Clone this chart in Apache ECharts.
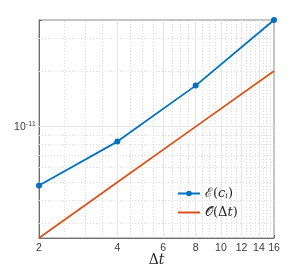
<!DOCTYPE html>
<html>
<head>
<meta charset="utf-8">
<script src="https://cdn.jsdelivr.net/npm/echarts@6/dist/echarts.min.js"></script>
<style>html,body{margin:0;padding:0;background:#fff;}#c{width:303px;height:268px;}</style>
</head>
<body>
<div id="c"></div>
<script>
const dt = [2, 4, 8, 16];
const errorValues = [4.81e-12, 8.3e-12, 1.666e-11, 3.77e-11];
const refValues = [2.5e-12, 5e-12, 1e-11, 2e-11];
const xTickLabels = [2, 4, 6, 8, 10, 12, 14, 16];
const xMajorGrid = [4, 6, 8, 10, 12, 14];
const xMinorGrid = [2.5, 3, 3.5, 4.5, 5, 5.5, 6.5, 7, 7.5, 8.5, 9, 9.5, 10.5, 11, 11.5, 12.5, 13, 13.5, 14.5, 15, 15.5];
const yMajorGrid = [1e-11];
const yMinorGrid = [3e-12, 4e-12, 5e-12, 6e-12, 7e-12, 8e-12, 9e-12, 2e-11, 3e-11];
const xMin = 2, xMax = 16, yMin = 2.5e-12, yMax = 3.77e-11;

const chart = echarts.init(document.getElementById('c'), null, {renderer: 'canvas'});
const serif = 'DejaVu Serif';
const minorStyle = {color: '#dcdcdc', type: [1, 2], width: 1};
const majorStyle = {color: '#e6e6e6', type: 'solid', width: 1};
const hLine = (v, st) => [{coord: [xMin, v], lineStyle: st}, {coord: [xMax, v]}];
const vLine = (v, st) => [{coord: [v, yMin], lineStyle: st}, {coord: [v, yMax]}];
const gridLines = [].concat(
  xMinorGrid.map(v => vLine(v, minorStyle)),
  yMinorGrid.map(v => hLine(v, minorStyle)),
  xMajorGrid.map(v => vLine(v, majorStyle)),
  yMajorGrid.map(v => hLine(v, majorStyle))
);
chart.setOption({
  animation: false,
  backgroundColor: '#fff',
  grid: {left: 39, right: 29, top: 20, bottom: 30, containLabel: false, outerBoundsMode: 'none',
         show: true, borderColor: '#8a8a8a', borderWidth: 1},
  legend: {
    orient: 'vertical', left: 177, top: 187, padding: 0, itemWidth: 22, itemHeight: 7, itemGap: 6,
    data: [{name: 'E'}, {name: 'O', itemStyle: {opacity: 0}}],
    formatter: n => n === 'E' ? '{t|ℰ(}{it|c}{i|i}{t|)}' : '{t|𝒪(Δ}{it|t}{t|)}',
    textStyle: {
      color: '#262626', fontFamily: serif, fontSize: 13,
      rich: {
        t: {fontFamily: serif, fontSize: 13, color: '#262626'},
        it: {fontFamily: serif, fontSize: 13, fontStyle: 'italic', color: '#262626'},
        i: {fontFamily: serif, fontSize: 8, fontStyle: 'italic', color: '#262626', verticalAlign: 'bottom', lineHeight: 8}
      }
    }
  },
  xAxis: [{
    type: 'log', logBase: 2, min: xMin, max: xMax,
    name: '{d|Δ}{t|t}', nameLocation: 'middle', nameGap: 15, nameMoveOverlap: false,
    nameTextStyle: {verticalAlign: 'top', rich: {d: {fontFamily: serif, fontSize: 14, color: '#262626'}, t: {fontFamily: serif, fontSize: 14, fontStyle: 'italic', color: '#262626'}}},
    axisLine: {lineStyle: {color: '#6e6e6e'}},
    axisTick: {inside: true, length: 3, customValues: xTickLabels, lineStyle: {color: '#6e6e6e'}},
    axisLabel: {customValues: xTickLabels, margin: 5, fontFamily: 'Liberation Sans', fontSize: 10.5, color: '#3a3a3a', formatter: v => String(Math.round(v))},
    splitLine: {show: false}, minorTick: {show: false}
  }, {
    type: 'log', logBase: 2, min: xMin, max: xMax, position: 'top',
    axisLine: {show: false},
    axisTick: {inside: true, length: 3, customValues: xTickLabels, lineStyle: {color: '#6e6e6e'}},
    axisLabel: {show: false}, splitLine: {show: false}
  }],
  yAxis: [{
    type: 'log', logBase: 10, min: yMin, max: yMax,
    axisLine: {show: true, lineStyle: {color: '#6e6e6e'}},
    axisTick: {show: true, inside: true, length: 3, lineStyle: {color: '#6e6e6e'}},
    axisLabel: {
      margin: 3, color: '#3a3a3a',
      formatter: v => (Math.abs(Math.log10(v) + 11) < 1e-6 ? '{b|10}{s|-11}' : ''),
      rich: {
        b: {fontFamily: 'Liberation Sans', fontSize: 10.5, color: '#3a3a3a', lineHeight: 14},
        s: {fontFamily: 'Liberation Sans', fontSize: 7.5, color: '#4a4a4a', lineHeight: 7, verticalAlign: 'top'}
      }
    },
    splitLine: {show: false}
  }],
  series: [{
    name: 'O', type: 'line', z: 3, showSymbol: false, symbol: 'none',
    data: dt.map((x, i) => [x, refValues[i]]),
    lineStyle: {color: '#D95319', width: 1.8}, itemStyle: {color: '#D95319'},
    markLine: {silent: true, symbol: 'none', z: 1, label: {show: false}, data: gridLines, animation: false}
  }, {
    name: 'E', type: 'line', z: 4, symbol: 'circle', symbolSize: 6,
    data: dt.map((x, i) => [x, errorValues[i]]),
    lineStyle: {color: '#0072BD', width: 1.8}, itemStyle: {color: '#0072BD'}
  }]
});
</script>
</body>
</html>
